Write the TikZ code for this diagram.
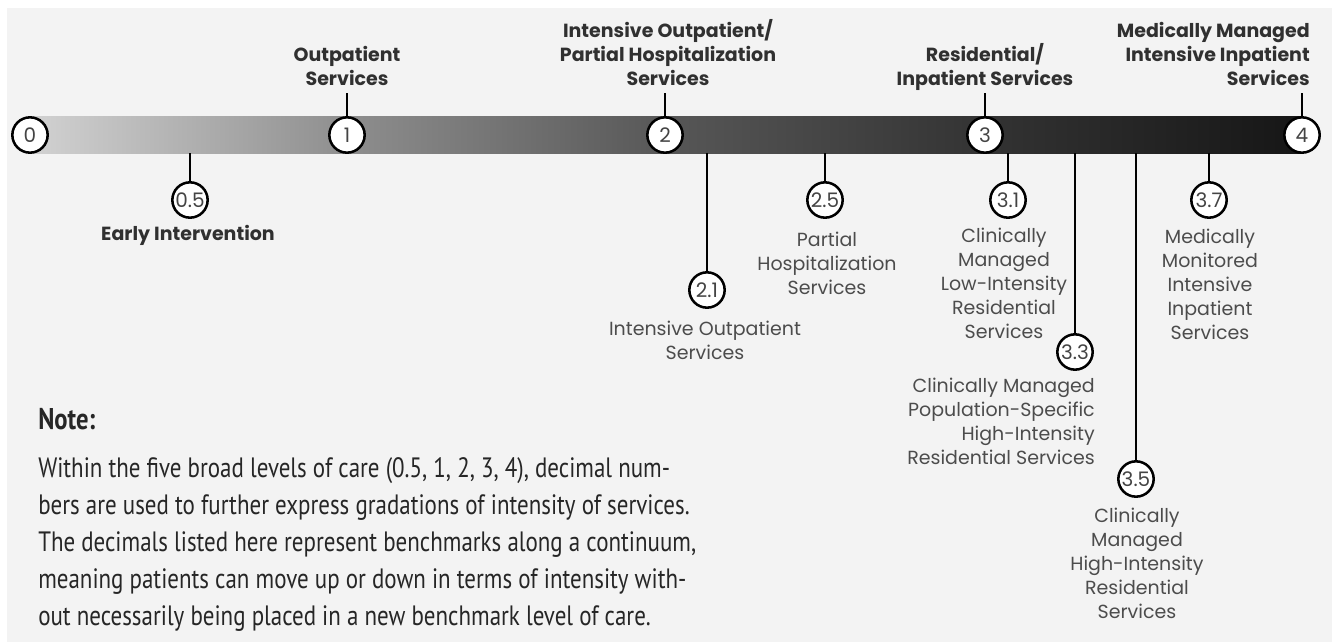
\documentclass[tikz,border=0pt]{standalone}
\usepackage{fontspec}
\setmainfont{Poppins}
\newfontfamily\notefont[FakeStretch=0.82]{PT Sans}
\definecolor{bgc}{HTML}{F3F3F3}
\definecolor{titlec}{HTML}{303030}
\definecolor{descc}{HTML}{4C4C4C}
\definecolor{numc}{HTML}{444444}
\definecolor{notec}{HTML}{262626}
\definecolor{barA}{HTML}{D2D2D2}
\definecolor{barB}{HTML}{8E8E8E}
\definecolor{barC}{HTML}{575757}
\definecolor{barD}{HTML}{333333}
\definecolor{barE}{HTML}{161616}
\pgfdeclarehorizontalshading{barshade}{100bp}{color(0bp)=(barA); color(25bp)=(barA); color(37.5bp)=(barB); color(50bp)=(barC); color(62.5bp)=(barD); color(75bp)=(barE); color(100bp)=(barE)}
\newcommand{\linesT}[2]{\begin{tabular}[t]{@{}#1@{}}#2\end{tabular}}
\newcommand{\linesB}[2]{\begin{tabular}[b]{@{}#1@{}}#2\end{tabular}}
\renewcommand{\arraystretch}{1}
\tikzset{
  lvl/.style={circle, draw=black, line width=1.9pt, fill=white, minimum size=26.5pt, inner sep=0pt, text=numc, font=\fontsize{15pt}{18pt}\selectfont},
  ttl/.style={inner sep=0pt, text=titlec, font=\bfseries\fontsize{14.25pt}{18pt}\selectfont},
  dsc/.style={inner sep=0pt, text=descc, font=\fontsize{14.25pt}{18pt}\selectfont},
  conn/.style={line width=1.7pt, draw=black}
}
\begin{document}
\begin{tikzpicture}[x=0.75pt,y=-0.75pt]
\useasboundingbox (0,0) rectangle (1332,642);
\fill[white] (0,0) rectangle (1332,642);
\fill[bgc] (7,8) rectangle (1332,642);
% bar
\shade[shading=barshade] (30,117) rectangle (1302,153);
% bar bottom coordinates
\coordinate (b05) at (190,153);
\coordinate (b21) at (707,153);
\coordinate (b25) at (825,153);
\coordinate (b31) at (1008,153);
\coordinate (b33) at (1075,153);
\coordinate (b35) at (1136,153);
\coordinate (b37) at (1209,153);
% main level circles
\node[lvl] (c0) at (30,135) {0};
\node[lvl] (c1) at (347,135) {1};
\node[lvl] (c2) at (665,135) {2};
\node[lvl] (c3) at (985,135) {3};
\node[lvl] (c4) at (1302,135) {4};
% titles above
\node[ttl, anchor=base] (t1) at (347,86) {\linesB{c}{Outpatient\\Services}};
\node[ttl, anchor=base] (t2) at (668,86) {\linesB{c}{Intensive Outpatient/\\Partial Hospitalization\\Services}};
\node[ttl, anchor=base] (t3) at (985,86) {\linesB{c}{Residential/\\Inpatient Services}};
\node[ttl, anchor=base east] (t4) at (1310,86) {\linesB{r}{Medically Managed\\Intensive Inpatient\\Services}};
\draw[conn] (c1.north) -- (c1.north |- t1.south);
\draw[conn] (c2.north) -- (c2.north |- t2.south);
\draw[conn] (c3.north) -- (c3.north |- t3.south);
\draw[conn] (c4.north) -- (c4.north |- t4.south);
% sub-level circles
\node[lvl] (c05) at (190,200) {0.5};
\node[lvl] (c21) at (707,290) {2.1};
\node[lvl] (c25) at (825,200) {2.5};
\node[lvl] (c31) at (1008,200) {3.1};
\node[lvl] (c33) at (1075,352) {3.3};
\node[lvl] (c35) at (1136,479) {3.5};
\node[lvl] (c37) at (1209,200) {3.7};
\draw[conn] (b05) -- (c05.north);
\draw[conn] (b21) -- (c21.north);
\draw[conn] (b25) -- (c25.north);
\draw[conn] (b31) -- (c31.north);
\draw[conn] (b33) -- (c33.north);
\draw[conn] (b35) -- (c35.north);
\draw[conn] (b37) -- (c37.north);
% descriptions below
\node[ttl, anchor=base] (l05) at (188,240) {Early Intervention};
\node[dsc, anchor=base] (l21) at (705,335) {\linesT{c}{Intensive Outpatient\\Services}};
\node[dsc, anchor=base] (l25) at (827,246) {\linesT{c}{Partial\\Hospitalization\\Services}};
\node[dsc, anchor=base] (l31) at (1004,242) {\linesT{c}{Clinically\\Managed\\Low-Intensity\\Residential\\Services}};
\node[dsc, anchor=base east] (l33) at (1095,392) {\linesT{r}{Clinically Managed\\Population-Specific\\High-Intensity\\Residential Services}};
\node[dsc, anchor=base] (l35) at (1137,522) {\linesT{c}{Clinically\\Managed\\High-Intensity\\Residential\\Services}};
\node[dsc, anchor=base] (l37) at (1210,243) {\linesT{c}{Medically\\Monitored\\Intensive\\Inpatient\\Services}};
% note
\node[anchor=base west, inner sep=0pt, text=notec, font=\notefont\bfseries\fontsize{22.5pt}{26pt}\selectfont] (nt) at (38,429) {Note:};
\node[anchor=base west, inner sep=0pt, text=notec, font=\notefont\fontsize{21pt}{27.75pt}\selectfont] (nb) at (38,477) {\linesT{l}{Within the five broad levels of care (0.5, 1, 2, 3, 4), decimal num-\\bers are used to further express gradations of intensity of services.\\The decimals listed here represent benchmarks along a continuum,\\meaning patients can move up or down in terms of intensity with-\\out necessarily being placed in a new benchmark level of care.}};
\end{tikzpicture}
\end{document}
